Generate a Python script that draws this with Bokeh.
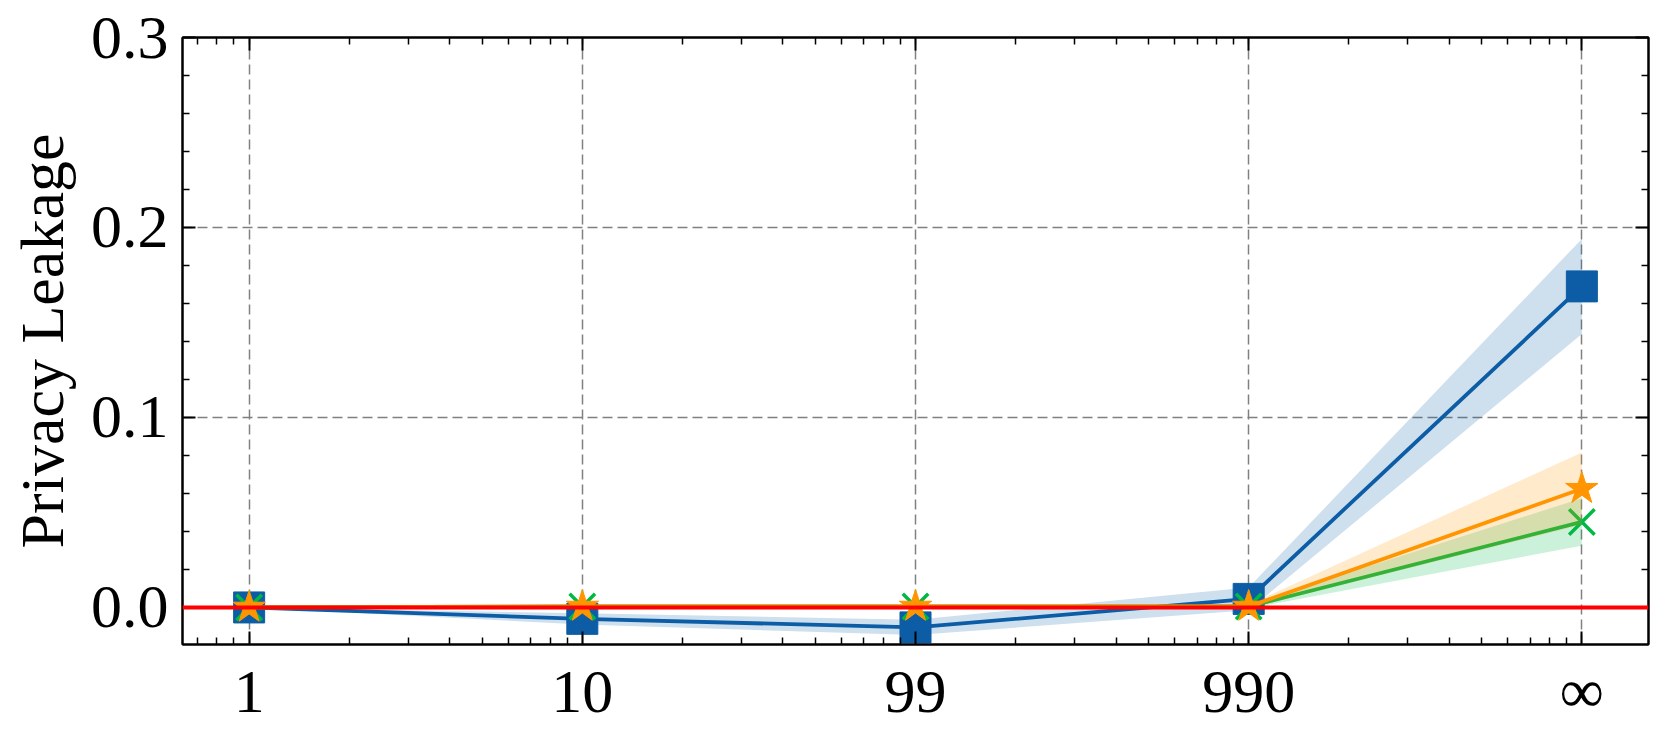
from bokeh.plotting import figure
from bokeh.models import Range1d, FixedTicker, LogAxis, LinearAxis, Span
from bokeh.embed import file_html
from bokeh.resources import INLINE

# ---- data ----
x_vals = [1, 10, 100, 1000, 10000]
x_labels = ["1", "10", "99", "990", "∞"]

blue_mean = [0.0, -0.006, -0.0105, 0.0045, 0.169]
blue_err = [0.0, 0.003, 0.004, 0.006, 0.025]

green_mean = [0.0, 0.0005, 0.0005, 0.0005, 0.045]
green_err = [0.0, 0.0, 0.0, 0.001, 0.0125]

orange_mean = [0.0, 0.0005, 0.0005, 0.0005, 0.0625]
orange_err = [0.0, 0.0, 0.0, 0.001, 0.019]

y_ticks = [0.0, 0.1, 0.2, 0.3]
y_minor = [-0.02, 0.02, 0.04, 0.06, 0.08, 0.12, 0.14, 0.16, 0.18,
           0.22, 0.24, 0.26, 0.28]
x_minor = [0.7, 0.8, 0.9] + [m * d for d in (1, 10, 100, 1000) for m in range(2, 10)]

BLUE = "#0C5DA5"
GREEN = "#00B945"
ORANGE = "#FF9500"
FONT = "Liberation Serif"
FS = "62px"

p = figure(width=1655, height=727, x_axis_type="log",
           x_range=Range1d(10 ** -0.2, 10 ** 4.2), y_range=Range1d(-0.0195, 0.3),
           output_backend="svg", toolbar_location=None,
           min_border_left=182, min_border_right=7, min_border_top=37, min_border_bottom=83)

xt = FixedTicker(ticks=x_vals, minor_ticks=x_minor)
yt = FixedTicker(ticks=y_ticks, minor_ticks=y_minor)

def style(ax, labels=True):
    ax.axis_line_color = "black"
    ax.axis_line_width = 2
    ax.major_tick_line_width = 2
    ax.minor_tick_line_width = 1.5
    ax.major_tick_in = 13
    ax.major_tick_out = 0
    ax.minor_tick_in = 7
    ax.minor_tick_out = 0
    ax.major_label_text_font = FONT
    ax.major_label_text_color = "black"
    if labels:
        ax.major_label_text_font_size = FS
    else:
        ax.major_label_text_font_size = "1px"
        ax.major_label_text_color = None
        ax.major_label_standoff = 0

xa = p.xaxis[0]
xa.ticker = xt
xa.major_label_overrides = {v: l for v, l in zip(x_vals, x_labels)}
style(xa)
xa.major_label_standoff = 12

ya = p.yaxis[0]
ya.ticker = yt
ya.major_label_overrides = {v: f"{v:.1f}" for v in y_ticks}
style(ya)
ya.major_label_standoff = 14
ya.axis_label = "Privacy Leakage"
ya.axis_label_text_font = FONT
ya.axis_label_text_font_size = FS
ya.axis_label_text_font_style = "normal"
ya.axis_label_text_color = "black"
ya.axis_label_standoff = 12

top = LogAxis(ticker=xt)
style(top, labels=False)
p.add_layout(top, "above")
right = LinearAxis(ticker=yt)
style(right, labels=False)
p.add_layout(right, "right")

p.xgrid.ticker = xt
p.ygrid.ticker = yt
for g in (p.xgrid, p.ygrid):
    g.grid_line_color = "#808080"
    g.grid_line_width = 1.5
    g.grid_line_dash = "10 5"

p.outline_line_color = "black"
p.outline_line_width = 2
p.background_fill_color = "white"
p.border_fill_color = "white"

def series(mean, err, color, marker, size, lw_marker):
    lo = [m - e for m, e in zip(mean, err)]
    hi = [m + e for m, e in zip(mean, err)]
    p.varea(x=x_vals, y1=lo, y2=hi, fill_color=color, fill_alpha=0.2)
    p.line(x_vals, mean, line_color=color, line_width=3.8)
    if marker == "x":
        p.scatter(x_vals, mean, marker="x", size=size, line_color=color, line_width=lw_marker)
    else:
        p.scatter(x_vals, mean, marker=marker, size=size, fill_color=color,
                  line_color=color, line_width=lw_marker)

series(blue_mean, blue_err, BLUE, "square", 31, 1)
series(green_mean, green_err, GREEN, "x", 36, 3.5)
series(orange_mean, orange_err, ORANGE, "star", 34, 1)

p.add_layout(Span(location=0, dimension="width", line_color="#FF0000", line_width=4))

open("out.html", "w").write(file_html(p, INLINE))
